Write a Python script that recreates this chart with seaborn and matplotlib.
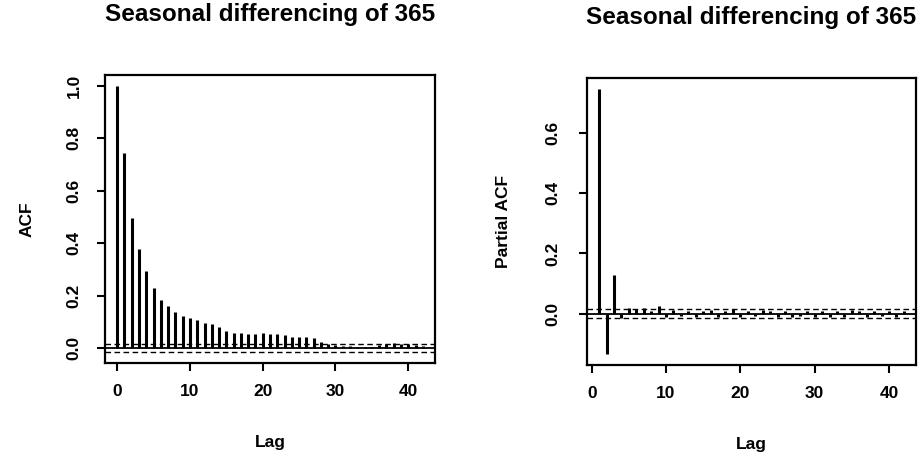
import matplotlib
matplotlib.use("Agg")
import matplotlib.pyplot as plt
import seaborn as sns
import numpy as np

# ACF values, lags 0..42
acf_lags = list(range(0, 43))
acf_vals = [1.0, 0.745, 0.497, 0.377, 0.294, 0.230, 0.186, 0.162, 0.137, 0.124,
            0.116, 0.108, 0.096, 0.091, 0.082, 0.067, 0.060, 0.060, 0.054, 0.054,
            0.060, 0.055, 0.055, 0.050, 0.045, 0.045, 0.045, 0.040, 0.025, 0.017,
            0.012, 0.010, 0.010, 0.006, 0.006, 0.006, 0.012, 0.018, 0.020, 0.018,
            0.015, 0.012, 0.009]

# PACF values, lags 1..42
pacf_lags = list(range(1, 43))
pacf_vals = [0.747, -0.135, 0.128, -0.015, 0.018, 0.015, 0.020, 0.010, 0.025, -0.010,
             0.012, -0.008, 0.008, -0.012, 0.010, 0.012, -0.010, 0.008, 0.015, -0.010,
             0.010, -0.008, 0.012, 0.010, -0.012, 0.010, -0.010, -0.008, 0.010, -0.012,
             0.008, -0.010, 0.010, -0.010, 0.012, 0.010, -0.012, 0.010, -0.008, 0.010,
             -0.010, 0.008]

ci = 0.015
title = "Seasonal differencing of 365"

sns.set_theme(style="white")
plt.rcParams["font.family"] = ["Liberation Sans", "DejaVu Sans"]
plt.rcParams["text.color"] = "black"
plt.rcParams["axes.labelcolor"] = "black"
plt.rcParams["xtick.color"] = "black"
plt.rcParams["ytick.color"] = "black"

fig = plt.figure(figsize=(9.21, 4.65), dpi=100)
ax1 = fig.add_axes([105 / 921, 102 / 465, 330 / 921, 288 / 465])
ax2 = fig.add_axes([587 / 921, 100 / 465, 329 / 921, 287 / 465])


def r_lim(vals):
    lo, hi = min(vals), max(vals)
    pad = (hi - lo) * 0.04
    return lo - pad, hi + pad


def draw(ax, lags, vals, ylabel, yticks, ypad):
    ax.vlines(lags, 0, vals, color="black", linewidth=2.2)
    ax.axhline(0, color="black", linewidth=1.3)
    for c in (ci, -ci):
        ax.axhline(c, color="black", linewidth=1.0, linestyle=(0, (4, 2.5)))
    ax.set_xlim(*r_lim(lags))
    ax.set_ylim(*r_lim(list(vals) + [ci, -ci]))
    ax.set_xticks([0, 10, 20, 30, 40])
    ax.set_yticks(yticks)
    ax.set_yticklabels([f"{t:.1f}" for t in yticks], rotation=90, va="center")
    ax.tick_params(axis="both", direction="out", length=6, width=1.5,
                   color="black", labelsize=12.5, bottom=True, left=True)
    ax.tick_params(axis="x", pad=9)
    ax.tick_params(axis="y", pad=ypad)
    for lab in ax.get_xticklabels() + ax.get_yticklabels():
        lab.set_fontweight("bold")
    for s in ax.spines.values():
        s.set_visible(True)
        s.set_color("black")
        s.set_linewidth(1.6)
    ax.set_title(title, fontsize=17.5, fontweight="heavy", pad=39)
    ax.set_xlabel("Lag", fontsize=12.5, fontweight="bold")
    ax.set_ylabel(ylabel, fontsize=12.5, fontweight="bold")
    ax.xaxis.set_label_coords(0.5, -0.25)
    ax.grid(False)


draw(ax1, acf_lags, acf_vals, "ACF", [0.0, 0.2, 0.4, 0.6, 0.8, 1.0], 11)
ax1.yaxis.set_label_coords(-0.212, 0.5)
draw(ax2, pacf_lags, pacf_vals, "Partial ACF", [0.0, 0.2, 0.4, 0.6], 13)
ax2.yaxis.set_label_coords(-0.232, 0.5)

fig.savefig("out.png", dpi=100, facecolor="white")
